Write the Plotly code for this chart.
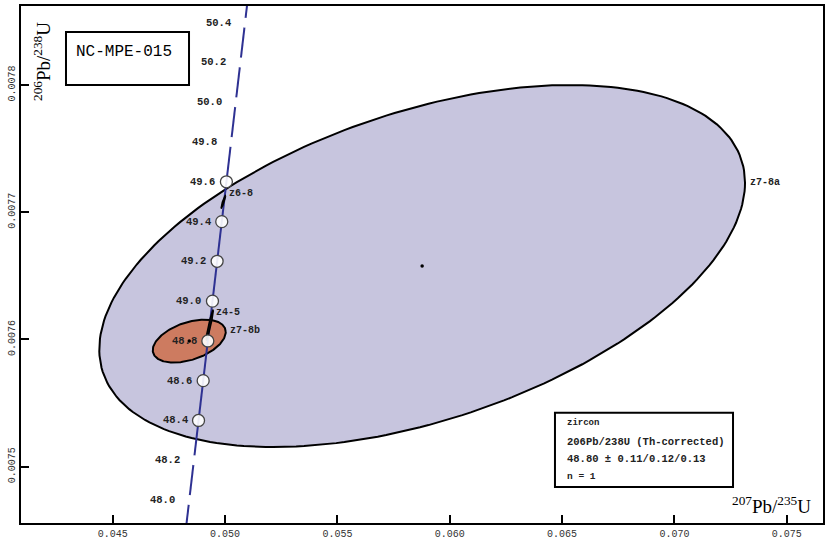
import numpy as np
import plotly.graph_objects as go

# Concordia ages (Ma) and ratios
ages = [47.8, 48.0, 48.2, 48.4, 48.6, 48.8, 49.0, 49.2, 49.4, 49.6, 49.8, 50.0, 50.2, 50.4, 50.6]
conc_207_235 = [0.04820149, 0.04840798, 0.0486145, 0.04882107, 0.04902768, 0.04923431, 0.04944101,
                0.04964774, 0.0498545, 0.05006132, 0.05026816, 0.05047505, 0.05068199, 0.05088896, 0.05109599]
conc_206_238 = [0.0074425, 0.0074738, 0.0075050, 0.0075363, 0.0075676, 0.0075988, 0.0076301,
                0.0076614, 0.0076926, 0.0077239, 0.0077552, 0.0077864, 0.0078177, 0.0078490, 0.0078802]
circle_ages = [48.4, 48.6, 48.8, 49.0, 49.2, 49.4, 49.6]
gap_ages = [48.0, 48.2, 49.8, 50.0, 50.2, 50.4]

# Analyses: name, centre (207/235, 206/238), half-ranges, correlation
names = ["z7-8a", "z7-8b", "z6-8", "z4-5"]
cx = [0.058772, 0.048408, 0.04992, 0.049319]
cy = [0.0076577, 0.0075987, 0.007708, 0.0076113]
sx = [0.014368, 0.001624, 0.000102, 0.00016]
sy = [0.0001423, 0.0000169, 0.000005, 0.000012]
rho = [0.46, 0.42, 0.93, 0.95]
fills = ["#c7c5de", "#cd7b60", "#111111", "#111111"]
label_x = [0.073274, 0.050142, 0.050098, 0.049520]
label_y = [0.0077237, 0.0076074, 0.0077151, 0.0076208]

x_ticks = [0.045, 0.050, 0.055, 0.060, 0.065, 0.070, 0.075]
y_ticks = [0.0075, 0.0076, 0.0077, 0.0078]

legend_lines = ["zircon", "206Pb/238U (Th-corrected)", "48.80 ± 0.11/0.12/0.13", "n = 1"]


def ellipse(x0, y0, ax, ay, r, n=240):
    t = np.linspace(0, 2 * np.pi, n)
    x = x0 + ax * np.cos(t)
    y = y0 + ay * (r * np.cos(t) + np.sqrt(1 - r ** 2) * np.sin(t))
    return x, y


fig = go.Figure()

for i in [0, 1]:
    ex, ey = ellipse(cx[i], cy[i], sx[i], sy[i], rho[i])
    fig.add_trace(go.Scatter(x=ex, y=ey, mode="lines", fill="toself", fillcolor=fills[i],
                             line=dict(color="black", width=2), hoverinfo="skip", showlegend=False))

fig.add_trace(go.Scatter(x=conc_207_235, y=conc_206_238, mode="lines",
                         line=dict(color="#2e3192", width=2), hoverinfo="skip", showlegend=False))

age_idx = {a: i for i, a in enumerate(ages)}
fig.add_trace(go.Scatter(x=[conc_207_235[age_idx[a]] for a in gap_ages],
                         y=[conc_206_238[age_idx[a]] for a in gap_ages], mode="markers",
                         marker=dict(size=10, color="white", line=dict(width=0)),
                         hoverinfo="skip", showlegend=False))

for i in [2, 3]:
    ex, ey = ellipse(cx[i], cy[i], sx[i], sy[i], rho[i])
    fig.add_trace(go.Scatter(x=ex, y=ey, mode="lines", fill="toself", fillcolor=fills[i],
                             line=dict(color="black", width=1.5), hoverinfo="skip", showlegend=False))

fig.add_trace(go.Scatter(x=[conc_207_235[age_idx[a]] for a in circle_ages],
                         y=[conc_206_238[age_idx[a]] for a in circle_ages], mode="markers",
                         marker=dict(size=12, color="rgba(255,255,255,0.9)", line=dict(width=1.3, color="#444")),
                         hoverinfo="skip", showlegend=False))

fig.add_trace(go.Scatter(x=cx[:2], y=cy[:2], mode="markers",
                         marker=dict(size=3.5, color="black"), hoverinfo="skip", showlegend=False))

mono = "Liberation Mono"
annotations = []
for a in circle_ages + gap_ages:
    i = age_idx[a]
    annotations.append(dict(x=conc_207_235[i], y=conc_206_238[i], xref="x", yref="y",
                            text="<b>%.1f</b>" % a, showarrow=False, xanchor="right", yanchor="middle",
                            xshift=-9 if a in circle_ages else -12,
                            font=dict(family=mono, size=10.5, color="#222")))
for n, lx, ly in zip(names, label_x, label_y):
    annotations.append(dict(x=lx, y=ly, xref="x", yref="y", text="<b>%s</b>" % n, showarrow=False,
                            xanchor="left", yanchor="middle", font=dict(family=mono, size=10, color="#222")))

annotations.append(dict(x=0.0262, y=0.8917, xref="paper", yref="paper", xanchor="center", yanchor="middle",
                        text="<sup>206</sup>Pb/<sup>238</sup>U", textangle=-90, showarrow=False,
                        font=dict(family="Liberation Serif", size=19, color="black")))
annotations.append(dict(x=0.9358, y=0.0348, xref="paper", yref="paper", xanchor="center", yanchor="middle",
                        text="<sup>207</sup>Pb/<sup>235</sup>U", showarrow=False,
                        font=dict(family="Liberation Serif", size=19, color="black")))

annotations.append(dict(x=0.0661, y=0.911, xref="paper", yref="paper", text="NC-MPE-015",
                        showarrow=False, xanchor="left", yanchor="middle",
                        font=dict(family=mono, size=16, color="black")))

leg_y = [0.194, 0.1567, 0.1238, 0.0909]
leg_size = [9, 10.5, 10.5, 9.5]
for t, yy, fs in zip(legend_lines, leg_y, leg_size):
    annotations.append(dict(x=0.6783, y=yy, xref="paper", yref="paper", text="<b>%s</b>" % t,
                            showarrow=False, xanchor="left", yanchor="middle",
                            font=dict(family=mono, size=fs, color="#222")))

shapes = [
    dict(type="rect", xref="paper", yref="paper", x0=0.0561, x1=0.2095, y0=0.8472, y1=0.9497,
         line=dict(color="black", width=2), fillcolor="white", layer="above"),
    dict(type="rect", xref="paper", yref="paper", x0=0.6658, x1=0.8878, y0=0.0696, y1=0.2133,
         line=dict(color="black", width=2), fillcolor="white", layer="above"),
]

fig.update_layout(
    width=827, height=545,
    margin=dict(l=21, r=4, t=6, b=22, autoexpand=False),
    paper_bgcolor="white", plot_bgcolor="white",
    annotations=annotations, shapes=shapes,
    xaxis=dict(range=[0.040921, 0.07661], tickvals=x_ticks, ticktext=["%.3f" % v for v in x_ticks],
               ticks="inside", ticklen=8, tickwidth=2, tickcolor="black", automargin=False,
               showline=True, linewidth=2, linecolor="black", mirror=True,
               showgrid=False, zeroline=False,
               tickfont=dict(family=mono, size=10, color="#333")),
    yaxis=dict(range=[0.0074557, 0.0078621], tickvals=y_ticks, ticktext=["%.4f" % v for v in y_ticks],
               ticks="inside", ticklen=8, tickwidth=2, tickcolor="black", tickangle=-90, automargin=False,
               showline=True, linewidth=2, linecolor="black", mirror=True,
               showgrid=False, zeroline=False,
               tickfont=dict(family=mono, size=10, color="#333")),
)

fig.write_html("out.html", config={"displayModeBar": False},
               post_script="document.body.style.margin='0px';document.body.style.padding='0px';")
